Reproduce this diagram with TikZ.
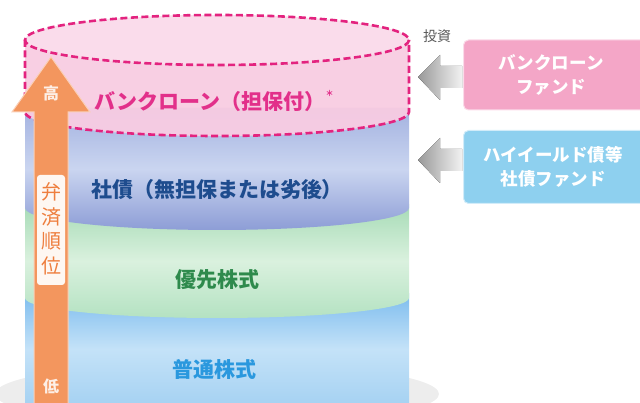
\documentclass[tikz,border=0pt]{standalone}
\usepackage{fontspec}
\newfontfamily\jp{Noto Sans CJK JP}
\usetikzlibrary{calc}
\definecolor{pinkline}{HTML}{E3237F}
\definecolor{pinkfill}{HTML}{F8CCE2}
\definecolor{pinktop}{HTML}{FADCEB}
\definecolor{pinktext}{HTML}{E2308A}
\definecolor{blueA}{HTML}{A3B2E0}
\definecolor{blueB}{HTML}{CAD5F0}
\definecolor{blueC}{HTML}{8D9DD6}
\definecolor{blueText}{HTML}{1E4C8E}
\definecolor{greenA}{HTML}{A6DBB6}
\definecolor{greenB}{HTML}{DAF1DE}
\definecolor{greenC}{HTML}{B4E2C2}
\definecolor{greenText}{HTML}{2E8A4C}
\definecolor{lbA}{HTML}{7EBDEE}
\definecolor{lbB}{HTML}{C4E2F8}
\definecolor{lbC}{HTML}{A6D2F2}
\definecolor{lbText}{HTML}{2A98DE}
\definecolor{arrowOr}{HTML}{F3965E}
\definecolor{orText}{HTML}{EE7E3E}
\definecolor{boxPink}{HTML}{F4A6C7}
\definecolor{boxBlue}{HTML}{8ED0EF}
\begin{document}
\begin{tikzpicture}[x=1pt,y=-1pt,
  layertext/.style={font=\jp\bfseries\fontsize{21}{24}\selectfont, inner sep=0pt},
  fundbox/.style={rounded corners=5pt, fill=#1, draw=white!60!#1, line width=1pt},
  fundtext/.style={font=\jp\bfseries\fontsize{17.5}{24}\selectfont, text=white, align=center, inner sep=0pt},
  grayarrow/.style={left color=gray!80, right color=gray!10, draw=none},
  pinkdash/.style={draw=pinkline, line width=2.6pt, dash pattern=on 7pt off 3.5pt}
]
\useasboundingbox (0,0) rectangle (640,403);
% bottom shadow
\fill[gray!14] (217,394) ellipse [x radius=222, y radius=32];
% light blue layer (common stock)
\shade[top color=lbA, bottom color=lbC, middle color=lbB]
  (25,294) -- (25,404) -- (409,404) -- (409,294) -- cycle;
% green layer (preferred stock)
\shade[top color=greenA, bottom color=greenC, middle color=greenB]
  (25,204) -- (25,298) arc[start angle=180, end angle=0, x radius=192, y radius=20] -- (409,204) -- cycle;
% blue layer (bonds)
\shade[top color=blueA, bottom color=blueC, middle color=blueB]
  (25,108) -- (25,208) arc[start angle=180, end angle=0, x radius=192, y radius=22] -- (409,108) -- cycle;
% pink cylinder (bank loan)
\fill[pinkfill, opacity=0.95]
  (25,40) -- (25,112) arc[start angle=180, end angle=0, x radius=192, y radius=24]
  -- (409,40) arc[start angle=0, end angle=-180, x radius=192, y radius=25] -- cycle;
\fill[pinktop] (217,40) ellipse [x radius=192, y radius=25];
\draw[pinkdash] (217,40) ellipse [x radius=192, y radius=25];
\draw[pinkdash] (25,40) -- (25,112) arc[start angle=180, end angle=0, x radius=192, y radius=24] -- (409,40);
% layer labels
\node[layertext, text=pinktext] (loan) at (214,101) {バンクローン（担保付）\raisebox{1.1ex}{\fontsize{8}{8}\selectfont ＊}};
\node[layertext, text=blueText] (bond) at (217,190) {社債（無担保または劣後）};
\node[layertext, text=greenText] (pref) at (217,280) {優先株式};
\node[layertext, text=lbText] (common) at (214,369) {普通株式};
% priority arrow
\draw[fill=arrowOr, draw=white!55!arrowOr, line width=1pt]
  (51,57) -- (90,112) -- (68,112) -- (68,404) -- (34,404) -- (34,112) -- (12,112) -- cycle;
\node[font=\jp\bfseries\fontsize{16}{16}\selectfont, text=white!85!arrowOr] (high) at (51,93) {高};
\node[font=\jp\bfseries\fontsize{16}{16}\selectfont, text=white!85!arrowOr] (low) at (51,386) {低};
\node[fill=white!92!arrowOr, rounded corners=3pt, minimum width=28pt, minimum height=110pt, inner sep=0pt] (prbox) at (51,230) {};
\node[font=\jp\fontsize{20}{24.5}\selectfont, text=orText, align=center, inner sep=0pt] (prio) at (51,229) {弁\\済\\順\\位};
% investment side
\node[font=\jp\fontsize{14}{14}\selectfont, text=gray!70!black] (invest) at (437,36) {投資};
\fill[grayarrow] (418,77) -- (440,55) -- (440,66) -- (462,66) -- (462,88) -- (440,88) -- (440,100) -- cycle;
\fill[grayarrow] (418,160) -- (440,138) -- (440,149) -- (462,149) -- (462,171) -- (440,171) -- (440,183) -- cycle;
\node[fundbox=boxPink, minimum width=190pt, minimum height=70pt, anchor=west] (fundA) at (463,75) {};
\node[fundtext] (fundAt) at (551,75) {バンクローン\\ファンド};
\node[fundbox=boxBlue, minimum width=190pt, minimum height=73pt, anchor=west] (fundB) at (463,167) {};
\node[fundtext] (fundBt) at (553,167) {ハイイールド債等\\社債ファンド};
\end{tikzpicture}
\end{document}
